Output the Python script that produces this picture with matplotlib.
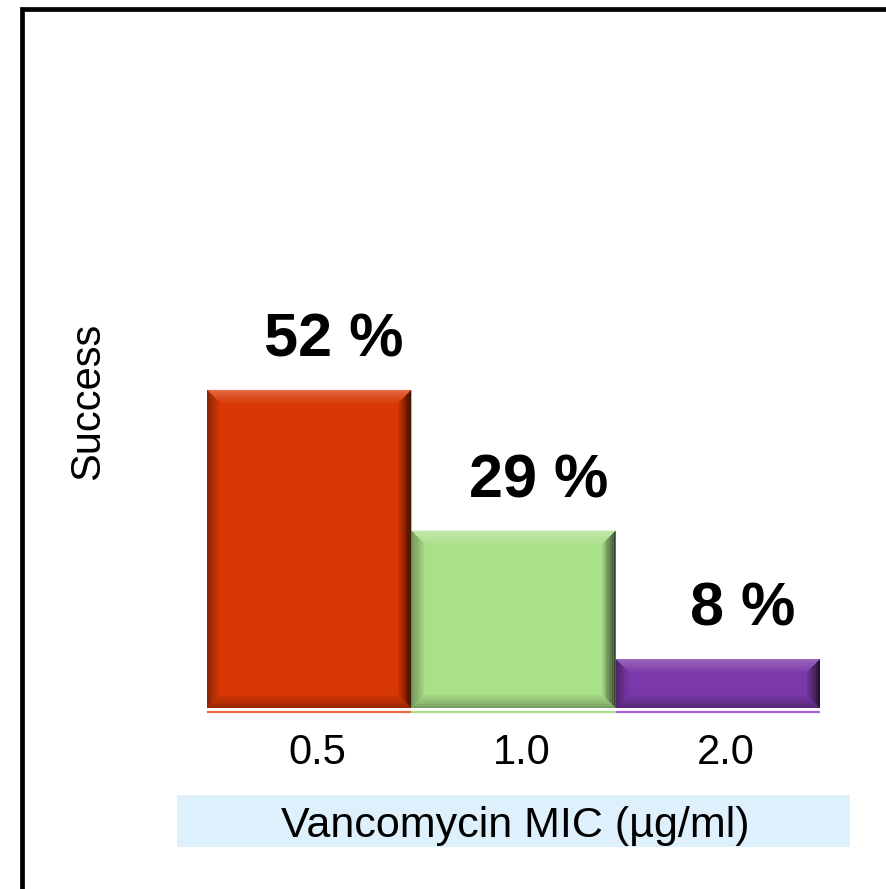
import numpy as np
import matplotlib.pyplot as plt
from matplotlib.patches import Polygon, Rectangle
from matplotlib.colors import to_rgb
import matplotlib.transforms as mtransforms

plt.rcParams['font.family'] = ['Liberation Sans', 'DejaVu Sans']

mic_labels = ['0.5', '1.0', '2.0']
success_pct = [52, 29, 8]
face_colors = ['#D93805', '#ABE08B', '#7A38A8']
line_colors = ['#F26A45', '#A8DE8C', '#A860D8']


def mix(c1, c2, t):
    a = np.array(to_rgb(c1))
    b = np.array(to_rgb(c2))
    return tuple(a + (b - a) * t)


def add_bevel(ax, patch, color, bevel_px=13, steps=6):
    """Draw a soft bevelled frame on top of a bar patch."""
    x0, y0 = patch.get_x(), patch.get_y()
    x1, y1 = x0 + patch.get_width(), y0 + patch.get_height()
    xl, yl = ax.get_xlim(), ax.get_ylim()
    ppx = ax.bbox.width / (xl[1] - xl[0])
    ppy = ax.bbox.height / (yl[1] - yl[0])
    bevel = min(bevel_px, 0.45 * patch.get_height() * ppy)
    edge = {
        'top': mix(color, 'white', 0.25),
        'left': mix(color, 'black', 0.35),
        'right': mix(color, 'black', 0.7),
        'bottom': mix(color, 'black', 0.3),
    }
    for k in range(steps):
        o = bevel * k / steps
        i = bevel * (k + 1) / steps
        t = k / steps
        ox, oy, ix, iy = o / ppx, o / ppy, i / ppx, i / ppy
        quads = {
            'top': [(x0 + ox, y1 - oy), (x1 - ox, y1 - oy), (x1 - ix, y1 - iy), (x0 + ix, y1 - iy)],
            'bottom': [(x0 + ox, y0 + oy), (x1 - ox, y0 + oy), (x1 - ix, y0 + iy), (x0 + ix, y0 + iy)],
            'left': [(x0 + ox, y0 + oy), (x0 + ox, y1 - oy), (x0 + ix, y1 - iy), (x0 + ix, y0 + iy)],
            'right': [(x1 - ox, y0 + oy), (x1 - ox, y1 - oy), (x1 - ix, y1 - iy), (x1 - ix, y0 + iy)],
        }
        for side, pts in quads.items():
            ax.add_patch(Polygon(pts, closed=True, facecolor=mix(edge[side], color, t),
                                 edgecolor='none', zorder=3))


fig = plt.figure(figsize=(8.86, 8.89), dpi=100)
W, H = 886, 889

# outer black frame running off the right and bottom
fig.patches.append(Rectangle((22 / W, -0.05), 1.0, 1 - 9 / H + 0.05, transform=fig.transFigure,
                             fill=False, edgecolor='black', linewidth=3.4, zorder=0))

ax = fig.add_axes([207 / W, 1 - 708 / H, 613 / W, 367 / H])
x = np.arange(len(success_pct))
bars = ax.bar(x, success_pct, width=1.0, color=face_colors, edgecolor='none', zorder=2)
ax.set_xlim(-0.5, len(success_pct) - 0.5)
ax.set_ylim(0, 60)

for patch, col in zip(bars, face_colors):
    add_bevel(ax, patch, col)

# thin coloured rule under each bar
for xi, lc in zip(x, line_colors):
    ax.plot([xi - 0.5, xi + 0.5], [-0.6, -0.6], color=lc, lw=1.6, clip_on=False, zorder=2,
            solid_capstyle='butt')

for xi, v in zip(x, success_pct):
    ax.annotate(f'{v} %', xy=(xi, v), xytext=(18, 24), textcoords='offset points',
                ha='center', va='baseline', fontsize=44, fontweight='bold')

ax.set_xticks(x)
ax.set_xticklabels(mic_labels, fontsize=30)
ax.tick_params(axis='x', length=0, pad=18)
shift = mtransforms.ScaledTranslation(6 / 72, 0, fig.dpi_scale_trans)
for lbl in ax.get_xticklabels():
    lbl.set_transform(lbl.get_transform() + shift)
ax.set_yticks([])
for s in ax.spines.values():
    s.set_visible(False)
ax.patch.set_alpha(0)

fig.text(88 / W, 1 - 401 / H, 'Success', rotation=90, ha='center', va='center', fontsize=30)

fig.patches.append(Rectangle((177 / W, 1 - 847 / H), 673 / W, 52 / H, transform=fig.transFigure,
                             facecolor='#DDF0FB', edgecolor='none', zorder=1))
fig.text(515 / W, 1 - 837 / H, 'Vancomycin MIC (µg/ml)', ha='center', va='baseline', fontsize=31)

fig.savefig('out.png', dpi=100)
